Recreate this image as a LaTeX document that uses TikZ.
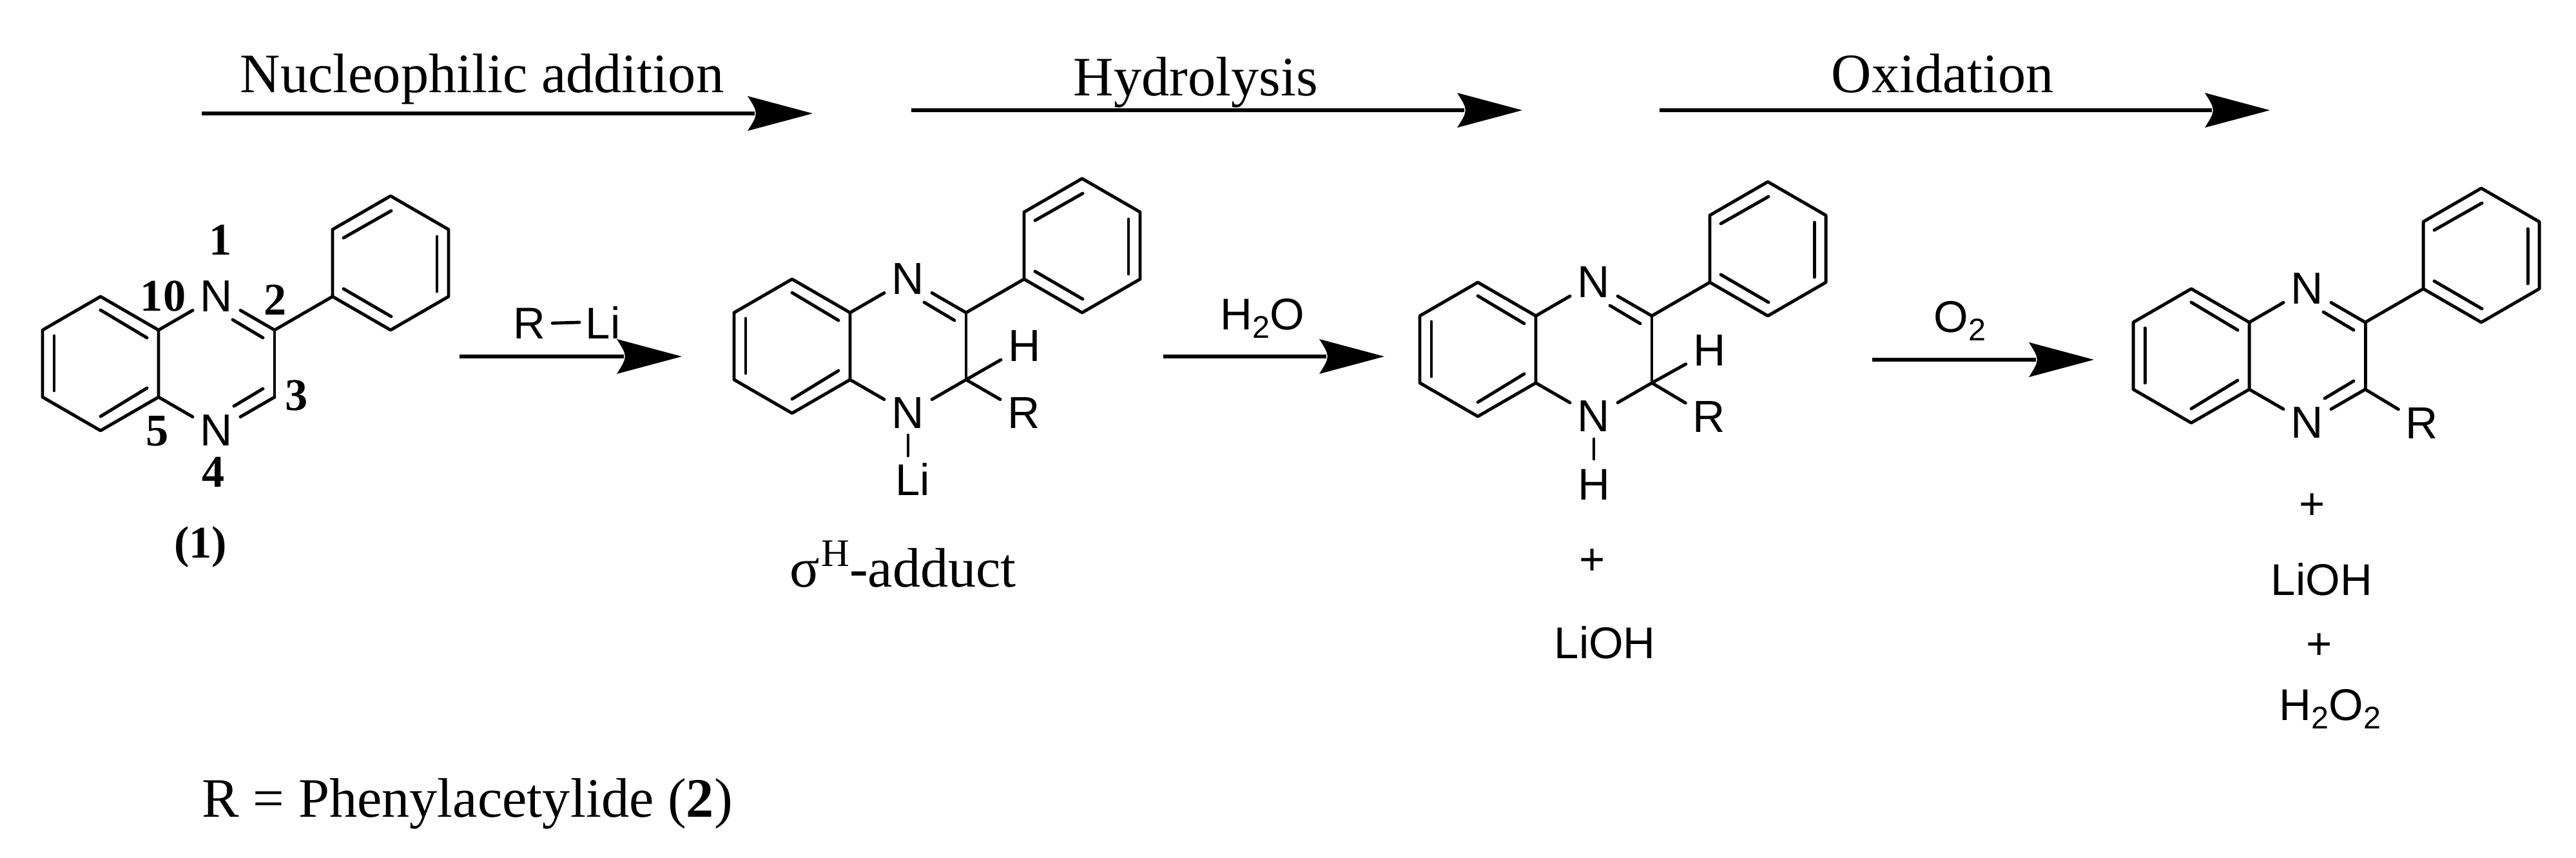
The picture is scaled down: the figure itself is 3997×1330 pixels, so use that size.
\documentclass[tikz,border=0pt]{standalone}
\usepackage{fontspec}
\setmainfont{Liberation Serif}
\newfontfamily\arialfam{Liberation Sans}
\usetikzlibrary{calc}
\tikzset{
  bond/.style={line width=1.4pt,line cap=round,line join=round,black},
  rxnline/.style={line width=1.5pt,black},
  atom/.style={circle,inner sep=0pt,minimum size=23.9pt,font=\arialfam\fontsize{19.8}{20}\selectfont,text=black},
  chem/.style={inner sep=0pt,anchor=base west,font=\arialfam\fontsize{19.6}{20}\selectfont,text=black},
  plus/.style={inner sep=0pt,font=\arialfam\fontsize{19.6}{20}\selectfont,text=black},
  serif/.style={inner sep=0pt,anchor=base west,font=\fontsize{24.55}{26}\selectfont,text=black},
  locant/.style={inner sep=0pt,font=\bfseries\fontsize{20}{22}\selectfont,text=black}
}
\newcommand{\lowtwo}{\raisebox{-3.9pt}{\fontsize{13.8}{14}\selectfont 2}}
% #1 name, #2 start x, #3 y, #4 tip x
\newcommand{\rxnarrow}[4]{%
  \coordinate (#1s) at (#2,#3);
  \coordinate (#1t) at (#4,#3);
  \draw[rxnline] (#1s) -- ($(#1t)+(-90,0)$);
  \fill[black,line join=round] (#1t) -- ($(#1t)+(-101,-27)$)
     .. controls ($(#1t)+(-84,0)$) and ($(#1t)+(-84,0)$) .. ($(#1t)+(-101,27)$) -- cycle;
}
% #1 prefix, #2 x, #3 y of upper bridgehead carbon
\newcommand{\quinoxcore}[3]{%
  \begin{scope}[shift={(#2,#3)}]
    \coordinate (#1a) at (0,0);
    \coordinate (#1b) at (0,104);
    \coordinate (#1c) at (-90,156);
    \coordinate (#1d) at (-180,104);
    \coordinate (#1e) at (-180,0);
    \coordinate (#1f) at (-90,-52);
    \node[atom] (#1N) at (90,-52) {N};
    \node[atom] (#1M) at (90,156) {N};
    \coordinate (#1g) at (180,0);
    \coordinate (#1h) at (180,104);
    \coordinate (#1p) at (270,-52);
    \coordinate (#1q) at (270,-156);
    \coordinate (#1r) at (360,-208);
    \coordinate (#1u) at (450,-156);
    \coordinate (#1v) at (450,-52);
    \coordinate (#1w) at (360,0);
    \draw[bond] (#1a) -- (#1b) -- (#1c) -- (#1d) -- (#1e) -- (#1f) -- cycle;
    \draw[bond] (#1p) -- (#1q) -- (#1r) -- (#1u) -- (#1v) -- (#1w) -- cycle;
    \draw[bond] (#1a) -- (#1N);
    \draw[bond] (#1b) -- (#1M);
    \draw[bond] (#1g) -- (#1N);
    \draw[bond] (#1g) -- (#1h);
    \draw[bond] (#1g) -- (#1p);
    \draw[bond] (#1h) -- (#1M);
    \draw[bond] (-90,-31) -- (-18,12);
    \draw[bond] (-162,9) -- (-162,94);
    \draw[bond] (-90,134) -- (-18,90);
    \draw[bond] (287,-143) -- (361,-185);
    \draw[bond] (432,-145) -- (432,-60);
    \draw[bond] (287,-64) -- (361,-21);
    \draw[bond] (162,12) -- (115,-16);
  \end{scope}
}
\begin{document}
\begin{tikzpicture}[x=0.01cm,y=-0.01cm]
\useasboundingbox (0,0) rectangle (3997,1330);
% top process arrows
\rxnarrow{ta}{313}{176}{1261}
\rxnarrow{tb}{1414}{171}{2362}
\rxnarrow{tc}{2575}{171}{3522}
\node[serif] (tla) at (372,143) {Nucleophilic addition};
\node[serif] (tlb) at (1665,148) {Hydrolysis};
\node[serif] (tlc) at (2841,143) {Oxidation};
% reaction arrows
\rxnarrow{ra}{713}{553}{1058}
\rxnarrow{rb}{1805}{553}{2148}
\rxnarrow{rc}{2905}{558}{3249}
% reagents
\node[chem] (rr) at (796,525) {R};
\node[chem] (li) at (908,525) {Li};
\draw[bond] ($(rr.east)+(10,0)$) -- ($(li.west)+(-9,0)$);
\node[chem] (water) at (1893,511) {H\lowtwo O};
\node[chem] (oxy) at (3000,515) {O\lowtwo};
% molecule 1
\quinoxcore{A}{246}{512}
\draw[bond] (408,603) -- (363,630);
\node[locant] (l1) at (342,372) {1};
\node[locant] (l10) at (253,459) {10};
\node[locant] (l2) at (427,465) {2};
\node[locant] (l3) at (460,614) {3};
\node[locant] (l5) at (244,669) {5};
\node[locant] (l4) at (331,732) {4};
\node[locant,anchor=base] (l0) at (311,865) {(1)};
% molecule 2
\quinoxcore{B}{1319}{485}
\node[atom] (BH) at (1590,537) {H};
\node[atom] (BR) at (1589,641) {R};
\draw[bond] (Bh) -- (BH);
\draw[bond] (Bh) -- (BR);
\node[chem,anchor=base] (BLi) at (1416,768) {Li};
\draw[bond] ($(BM)+(0,34)$) -- ($(BM)+(0,66)$);
\node[serif] (sig) at (1225,910) {σ\raisebox{9.1pt}{\fontsize{17.2}{18}\selectfont\kern0.6pt H}-adduct};
% molecule 3
\quinoxcore{C}{2383}{490}
\node[atom] (CH) at (2653,544) {H};
\node[atom] (CR) at (2652,647) {R};
\draw[bond] (Ch) -- (CH);
\draw[bond] (Ch) -- (CR);
\node[chem,anchor=base] (CH2) at (2473,775) {H};
\draw[bond] ($(CM)+(0,35)$) -- ($(CM)+(0,66)$);
\node[plus] (cp) at (2471,872) {+};
\node[chem] (clioh) at (2411,1021) {LiOH};
% molecule 4
\quinoxcore{D}{3490}{500}
\draw[bond] (3652,591) -- (3607,618);
\node[atom] (DR) at (3758,657) {R};
\draw[bond] (Dh) -- (DR);
\node[plus] (dp) at (3588,786) {+};
\node[chem] (dlioh) at (3523,923) {LiOH};
\node[plus] (dq) at (3599,1003) {+};
\node[chem] (dperox) at (3536,1117) {H\lowtwo O\lowtwo};
% footnote
\node[serif] (fn) at (313,1267) {R = Phenylacetylide (\textbf{2})};
\end{tikzpicture}
\end{document}
